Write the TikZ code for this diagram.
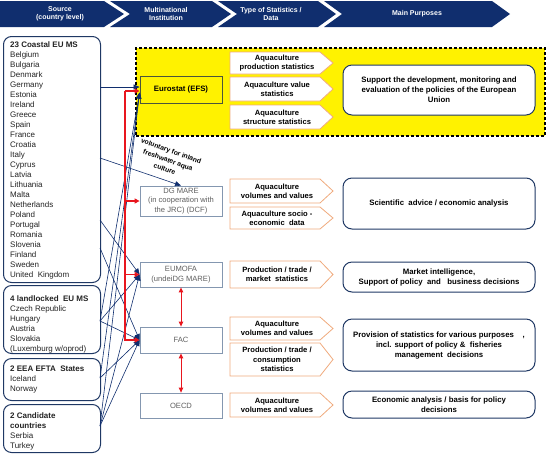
\documentclass[tikz,border=0pt]{standalone}
\usepackage{fontspec}
\setmainfont{Liberation Sans}
\usetikzlibrary{arrows.meta,calc}
\definecolor{navy}{RGB}{16,46,110}
\definecolor{boxnavy}{RGB}{31,56,100}
\definecolor{orangeb}{RGB}{240,170,125}
\definecolor{grayb}{RGB}{132,151,176}
\definecolor{graytext}{RGB}{95,95,95}
\definecolor{redl}{RGB}{232,22,30}
\definecolor{oliveb}{RGB}{75,85,60}
\definecolor{txt}{RGB}{35,35,35}
\newcommand{\statchev}[4]{%
  \draw[statshape] (230,#2) -- (320,#2) -- (333,{(#2+#3)/2}) -- (320,#3) -- (230,#3) -- cycle;
  \node[stattext] (#1) at (277,{(#2+#3)/2}) {#4};}
\begin{document}
\begin{tikzpicture}[x=1pt,y=-1pt,
  hdrtext/.style={text=white,font=\bfseries\fontsize{7}{8.5}\selectfont,align=center,inner sep=0pt},
  srcbox/.style={draw=boxnavy,line width=1pt,rounded corners=8pt,fill=white,anchor=north west,minimum width=97pt,inner sep=0pt},
  srctext/.style={anchor=north west,inner sep=0pt,align=left,text=txt,font=\fontsize{8}{10}\selectfont},
  inst/.style={draw=grayb,line width=0.8pt,fill=white,text=graytext,font=\fontsize{7.6}{9.5}\selectfont,align=center,inner sep=0pt,minimum width=82pt},
  statshape/.style={draw=orangeb,fill=white,line width=0.8pt},
  stattext/.style={font=\bfseries\fontsize{7.6}{9.4}\selectfont,align=center,inner sep=0pt},
  purp/.style={draw=boxnavy,line width=1pt,rounded corners=9pt,fill=white,font=\bfseries\fontsize{7.8}{10}\selectfont,align=center,inner sep=0pt,minimum width=192pt},
  conn/.style={draw=navy,line width=0.6pt,-{Triangle[length=6pt,width=5pt]}},
  redarr/.style={draw=redl,line width=1.5pt,-{Triangle[length=5pt,width=5pt]}},
  redbi/.style={draw=redl,line width=1pt,{Triangle[length=5pt,width=4.5pt]}-{Triangle[length=5pt,width=4.5pt]}},
]
\useasboundingbox (0,0) rectangle (548,464);

% header chevrons
\fill[navy] (0,1) -- (104,1) -- (124,14) -- (104,27) -- (0,27) -- cycle;
\fill[navy] (110,1) -- (212,1) -- (231,14) -- (212,27) -- (110,27) -- (130,14) -- cycle;
\fill[navy] (218,1) -- (318,1) -- (336,14) -- (318,27) -- (218,27) -- (237,14) -- cycle;
\fill[navy] (324,1) -- (492,1) -- (510,14) -- (492,27) -- (324,27) -- (342,14) -- cycle;
\node[hdrtext] (h1) at (60,14) {Source\\(country level)};
\node[hdrtext] (h2) at (166,14) {Multinational\\Institution};
\node[hdrtext] (h3) at (271,14) {Type of Statistics /\\Data};
\node[hdrtext] (h4) at (417,14) {Main Purposes};

% source boxes
\node[srcbox,minimum height=246pt] (src1) at (3,36) {};
\node[srctext] (src1t) at (10,41.5) {\textbf{23 Coastal EU MS}\\Belgium\\Bulgaria\\Denmark\\Germany\\Estonia\\Ireland\\Greece\\Spain\\France\\Croatia\\Italy\\Cyprus\\Latvia\\Lithuania\\Malta\\Netherlands\\Poland\\Portugal\\Romania\\Slovenia\\Finland\\Sweden\\United\ \ Kingdom};
\node[srcbox,minimum height=68pt] (src2) at (3,285) {};
\node[srctext] (src2t) at (10,295.3) {\textbf{4 landlocked\ \ EU MS}\\Czech Republic\\Hungary\\Austria\\Slovakia\\(Luxemburg w/oprod)};
\node[srcbox,minimum height=42pt] (src3) at (3,358) {};
\node[srctext] (src3t) at (10,365.3) {\textbf{2 EEA EFTA\ \ States}\\Iceland\\Norway};
\node[srcbox,minimum height=48pt] (src4) at (3,404) {};
\node[srctext] (src4t) at (10,412.3) {\textbf{2 Candidate}\\\textbf{countries}\\Serbia\\Turkey};

% yellow group
\node[draw=black,fill=yellow,line width=1.6pt,dash pattern=on 3pt off 2pt,anchor=north west,minimum width=409pt,minimum height=88pt,inner sep=0pt] (efsgroup) at (135,47) {};

% institutions
\node[inst,fill=yellow,draw=oliveb,text=black,font=\bfseries\fontsize{7.8}{9.5}\selectfont,minimum height=27pt] (eurostat) at (181,89.5) {Eurostat (EFS)};
\node[inst,minimum height=30pt] (dgmare) at (181,201) {DG MARE\\(in cooperation with\\the JRC) (DCF)};
\node[inst,minimum height=25pt] (eumofa) at (181,274.5) {EUMOFA\\(undeiDG MARE)};
\node[inst,minimum height=26pt] (fac) at (181,340) {FAC};
\node[inst,minimum height=25pt] (oecd) at (181,405.5) {OECD};

% statistics
\statchev{st1}{52}{74}{Aquaculture\\production statistics}
\statchev{st2}{77}{101}{Aquaculture value\\statistics}
\statchev{st3}{105}{129}{Aquaculture\\structure statistics}
\statchev{st4}{179}{203}{Aquaculture\\volumes and values}
\statchev{st5}{207}{229}{Aquaculture socio -\\economic\ \ data}
\statchev{st6}{261}{288}{Production / trade /\\market\ \ statistics}
\statchev{st7}{317}{340}{Aquaculture\\volumes and values}
\statchev{st8}{343}{376}{Production / trade /\\consumption\\statistics}
\statchev{st9}{393}{417}{Aquaculture\\volumes and values}

% purposes
\node[purp,minimum height=50pt] (pur1) at (439,90) {Support the development, monitoring and\\evaluation of the policies of the European\\Union};
\node[purp,minimum height=51pt] (pur2) at (439,203.5) {Scientific\ \ advice / economic analysis};
\node[purp,minimum height=30pt] (pur3) at (439,277) {Market intelligence,\\Support of policy\ \ and\ \ \ business decisions};
\node[purp,minimum height=52pt] (pur4) at (439,345) {Provision of statistics for various purposes\ \ \ \ ,\\incl. support of policy \&\ \ fisheries\\management\ \ decisions};
\node[purp,minimum height=27pt] (pur5) at (439,404.5) {Economic analysis / basis for policy\\decisions};

% voluntary note
\node[font=\bfseries\fontsize{6.8}{9.6}\selectfont,align=center,rotate=-20,inner sep=0pt] (vol) at (168,160) {voluntary for inland\\freshwater aqua\\culture};

% connector points
\coordinate (p1a) at (100,87);
\coordinate (p1b) at (100,158);
\coordinate (p1c) at (100,220);
\coordinate (p1d) at (100,248);
\coordinate (p2) at (100,321);
\coordinate (p3) at (100,378);
\coordinate (p4) at (100,426);
\coordinate (euin) at ($(eurostat.west)+(0,3)$);

% navy connectors
\draw[conn] (p1a) -- (eurostat.west |- p1a);
\draw[conn] (p1b) -- (dgmare.north);
\draw[conn] (p1c) -- (eumofa.west);
\draw[conn] (p1d) -- (fac.west);
\draw[conn] (p2) -- (euin);
\draw[conn] (p2) -- (eumofa.west);
\draw[conn] (p2) -- (fac.west);
\draw[conn] (p3) -- (euin);
\draw[conn] (p3) -- (fac.west);
\draw[conn] (p4) -- (euin);
\draw[conn] (p4) -- (eumofa.west);
\draw[conn] (p4) -- (fac.west);

% red connectors
\coordinate (rtop) at (125,91);
\draw[redarr] (rtop) -- (rtop |- fac.west) -- (fac.west);
\draw[redarr] (rtop) -- (eurostat.west |- rtop);
\draw[redarr] (rtop |- dgmare.west) -- (dgmare.west);
\draw[redarr] (rtop |- eumofa.west) -- (eumofa.west);
\draw[redbi] (eumofa.south) -- (fac.north);
\draw[redbi] (fac.south) -- (oecd.north);
\end{tikzpicture}
\end{document}
